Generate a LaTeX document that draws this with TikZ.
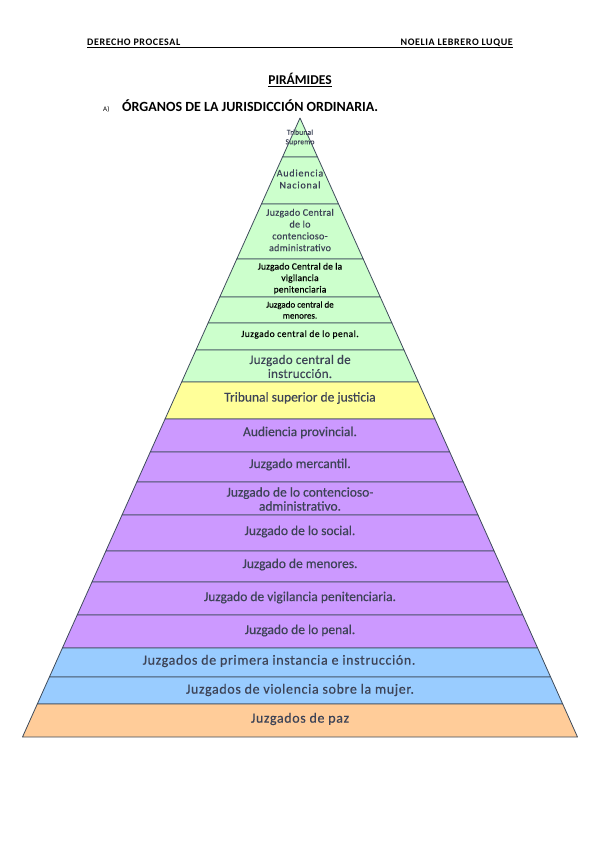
\documentclass[tikz,border=0pt]{standalone}
\usepackage{fontspec}
\setmainfont{Carlito}
\newfontfamily\piram[FakeBold=0.4]{Carlito}
\usepackage{tikz}
\usetikzlibrary{calc}

\definecolor{verde}{HTML}{CCFFCC}
\definecolor{amarillo}{HTML}{FFFF99}
\definecolor{lila}{HTML}{CC99FF}
\definecolor{azul}{HTML}{99CCFF}
\definecolor{naranja}{HTML}{FFCC99}
\definecolor{borde}{HTML}{3E4B5B}
\definecolor{txt}{HTML}{3D4356}

% tamano, interlineado, espaciado entre letras
\newcommand\tam[3]{\piram\fontsize{#1}{#2}\selectfont\addfontfeature{LetterSpace=#3}}

\begin{document}
\begin{tikzpicture}[x=1pt, y=-1pt,
	band/.style={draw=borde, line width=0.8pt, line join=round},
	lbl/.style={text=txt, align=center, inner sep=0pt},
	head/.style={font=\bfseries\fontsize{10}{11}\selectfont\addfontfeature{LetterSpace=6}, inner sep=0pt}]
	\useasboundingbox (0,0) rectangle (599,848);
	% cabecera
	\node[head, anchor=base west] (hizq) at (87,46) {DERECHO PROCESAL};
	\node[head, anchor=base east] (hder) at (513,46) {NOELIA LEBRERO LUQUE};
	\draw[line width=0.5pt] ($(hizq.base west)+(0,1.6)$) -- ($(hder.base east)+(0,1.6)$);
	\node[font=\bfseries\fontsize{13.5}{15}\selectfont, anchor=base, inner sep=0pt] (titulo) at (300,85) {\underline{PIRÁMIDES}};
	\node[font=\fontsize{7}{8}\selectfont, anchor=base west, inner sep=0pt] (letra) at (103,111.5) {A)};
	\node[font=\bfseries\fontsize{14}{16}\selectfont, anchor=base west, inner sep=0pt] (seccion) at (122,111.5) {ÓRGANOS DE LA JURISDICCIÓN ORDINARIA.};
	% franjas de la piramide: apice (300,118), base 23--578 en y=737
	\foreach \ya/\yb/\col in {118/157/verde, 157/204/verde, 204/259/verde, 259/297/verde, 297/323/verde,
		323/350/verde, 350/382/verde, 382/419/amarillo, 419/452/lila, 452/482/lila, 482/515/lila,
		515/551/lila, 551/582/lila, 582/615/lila, 615/648/lila, 648/677/azul, 677/704/azul, 704/737/naranja}{
		\pgfmathsetmacro\wa{0.44830*(\ya-118)}
		\pgfmathsetmacro\wb{0.44830*(\yb-118)}
		\draw[band, fill=\col] ({300-\wa},\ya) -- ({300-\wb},\yb) -- ({300+\wb},\yb) -- ({300+\wa},\ya) -- cycle;
	}
	% textos
	\node[lbl, font=\tam{7.5}{9.5}{3}] (t1) at (300,137.5) {Tribunal\\Supremo};
	\node[lbl, font=\tam{10}{12}{8}] (t2) at (300,179) {Audiencia\\Nacional};
	\node[lbl, font=\tam{10}{11.8}{3}] (t3) at (300,230) {Juzgado Central\\de lo\\contencioso-\\administrativo};
	\node[lbl, text=black, font=\tam{9.5}{11.5}{2}] (t4) at (300,278.5) {Juzgado Central de la\\vigilancia\\penitenciaria};
	\node[lbl, text=black, font=\tam{9}{11}{0}] (t5) at (300,310) {Juzgado central de\\menores.};
	\node[lbl, text=black, font=\tam{9.5}{11}{5}] (t6) at (300,334.5) {Juzgado central de lo penal.};
	\node[lbl, font=\tam{13}{14}{2}] (t7) at (300,366.5) {Juzgado central de\\instrucción.};
	\node[lbl, font=\tam{13.5}{15}{0}] (t8) at (300,398) {Tribunal superior de justicia};
	\node[lbl, font=\tam{13.5}{15}{0}] (t9) at (300,432.5) {Audiencia provincial.};
	\node[lbl, font=\tam{13.5}{15}{0}] (t10) at (300,464.5) {Juzgado mercantil.};
	\node[lbl, font=\tam{13.5}{14}{0}] (t11) at (300,499) {Juzgado de lo contencioso-\\administrativo.};
	\node[lbl, font=\tam{13.5}{15}{0}] (t12) at (300,531.5) {Juzgado de lo social.};
	\node[lbl, font=\tam{13.5}{15}{0}] (t13) at (300,564.5) {Juzgado de menores.};
	\node[lbl, font=\tam{13.5}{15}{0}] (t14) at (300,597.5) {Juzgado de vigilancia penitenciaria.};
	\node[lbl, font=\tam{13.5}{15}{0}] (t15) at (300,630.5) {Juzgado de lo penal.};
	\node[lbl, font=\tam{14}{15}{4.5}] (t16) at (279,661) {Juzgados de primera instancia e instrucción.};
	\node[lbl, font=\tam{14}{15}{4.5}] (t17) at (300,690) {Juzgados de violencia sobre la mujer.};
	\node[lbl, font=\tam{14}{15}{4.5}] (t18) at (300,719) {Juzgados de paz};
\end{tikzpicture}
\end{document}
